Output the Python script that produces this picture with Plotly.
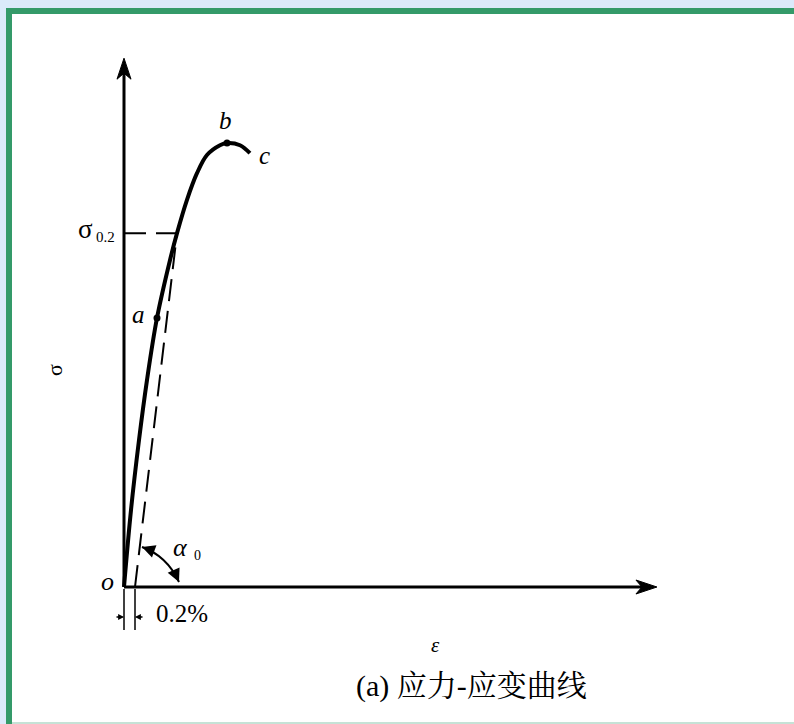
import plotly.graph_objects as go

# Stress–strain curve: strain in %, stress relative to ultimate strength (sigma_b = 100)
strain = [0.0, 0.127, 0.273, 0.418, 0.6, 0.836, 0.964, 1.145, 1.327, 1.509, 1.745, 1.873, 2.109, 2.29]
stress = [0.0, 17.3, 33.1, 46.6, 60.6, 73.6, 79.7, 87.2, 93.2, 97.3, 99.5, 100.0, 99.5, 97.7]

# 0.2 % offset (proof stress) construction
offset_strain = 0.2
proof_strain = 0.964
proof_stress = 79.7

# characteristic points on the curve
point_a = (0.6, 60.6)
point_b = (1.873, 100.0)
point_c = (2.29, 97.7)

# length of the drawn axes
axis_x_max = 9.69
axis_y_max = 119.1

# figure geometry (pixel scale of the data axes)
W, H = 794, 724
ORIGIN_PX = (124, 587)
PX_X = 55.0   # pixels per 1 % strain
PX_Y = 4.44   # pixels per stress unit

SERIF = "Liberation Serif, Times New Roman, serif"
CJK = "Liberation Serif, Noto Serif CJK SC, Noto Sans CJK SC, serif"

fig = go.Figure()

# offset line (dashed) from 0.2 % strain up to the curve
fig.add_trace(go.Scatter(
    x=[offset_strain, proof_strain], y=[0, proof_stress], mode="lines",
    line=dict(color="black", width=2, dash="22px,10px"), hoverinfo="skip"))
# horizontal dashed line at sigma_0.2
fig.add_trace(go.Scatter(
    x=[0, proof_strain], y=[proof_stress, proof_stress], mode="lines",
    line=dict(color="black", width=2, dash="22px,10px"), hoverinfo="skip"))
# stress–strain curve
fig.add_trace(go.Scatter(
    x=strain, y=stress, mode="lines",
    line=dict(color="black", width=4, shape="spline", smoothing=1.0), hoverinfo="skip"))
# points a and b
fig.add_trace(go.Scatter(
    x=[point_a[0], point_b[0]], y=[point_a[1], point_b[1]], mode="markers",
    marker=dict(color="black", size=7), hoverinfo="skip"))

shapes = []
# page frame: light blue outside, green border, white sheet
shapes.append(dict(type="rect", xref="paper", yref="paper", x0=6 / W, x1=1, y0=0, y1=1 - 8 / H,
                   fillcolor="#349a69", line=dict(width=0), layer="below"))
shapes.append(dict(type="rect", xref="paper", yref="paper", x0=12 / W, x1=1, y0=0, y1=1 - 14 / H,
                   fillcolor="#c6e2d6", line=dict(width=0), layer="below"))
shapes.append(dict(type="rect", xref="paper", yref="paper", x0=12 / W, x1=1, y0=2 / H, y1=1 - 14 / H,
                   fillcolor="white", line=dict(width=0), layer="below"))

# axes with arrowheads
ax_line = dict(color="black", width=3)
shapes.append(dict(type="line", xref="x", yref="y", x0=0, y0=0, x1=0,
                   y1=axis_y_max - 12 / PX_Y, line=ax_line))
shapes.append(dict(type="line", xref="x", yref="y", x0=0, y0=0,
                   x1=axis_x_max - 12 / PX_X, y1=0, line=ax_line))
shapes.append(dict(type="path", xref="x", yref="y", xsizemode="pixel", ysizemode="pixel",
                   xanchor=0, yanchor=axis_y_max,
                   path="M0,0 L-7,-21 L0,-15 L7,-21 Z",
                   fillcolor="black", line=dict(color="black", width=1)))
shapes.append(dict(type="path", xref="x", yref="y", xsizemode="pixel", ysizemode="pixel",
                   xanchor=axis_x_max, yanchor=0,
                   path="M0,0 L-21,7 L-15,0 L-21,-7 Z",
                   fillcolor="black", line=dict(color="black", width=1)))

# dimension lines for the 0.2 % offset
dim_bottom = -43 / PX_Y
for xv in (0, offset_strain):
    shapes.append(dict(type="line", xref="x", yref="y", x0=xv, x1=xv, y0=-2 / PX_Y, y1=dim_bottom,
                       line=dict(color="black", width=1.5)))

# angle arc alpha_0 between the offset line and the strain axis
shapes.append(dict(type="path", xref="x", yref="y", xsizemode="pixel", ysizemode="pixel",
                   xanchor=offset_strain, yanchor=0,
                   path="M7,40 Q32,31 44,5", line=dict(color="black", width=2)))

annotations = []


def label(text, x, y, dx=0, dy=0, size=25, **kw):
    annotations.append(dict(text=text, x=x, y=y, xref="x", yref="y", xshift=dx, yshift=dy,
                            showarrow=False, font=dict(family=SERIF, size=size, color="black"), **kw))


label("<i>b</i>", point_b[0], point_b[1], dx=-2, dy=23)
label("<i>c</i>", point_c[0], point_c[1], dx=15, dy=-2)
label("<i>a</i>", point_a[0], point_a[1], dx=-19, dy=3)
label("σ", 0, proof_stress, dx=-39, dy=4, size=27)
label("0.2", 0, proof_stress, dx=-19, dy=-4, size=15)
label("<i>o</i>", 0, 0, dx=-17, dy=6, size=26)
label("0.2%", 0, 0, dx=58, dy=-26, size=25)
label("<i>α</i>", 0, 0, dx=56, dy=40, size=26)
label("0", 0, 0, dx=73, dy=32, size=14)
label("<i>ε</i>", 0, 0, dx=311, dy=-58, size=21)
label("σ", 0, 48.9, dx=-69, size=22, textangle=-90)

# arrowheads on the alpha_0 arc
for dx, dy, ax, ay in ((7, 40, 11, 4), (44, 5, -5, -11)):
    annotations.append(dict(x=offset_strain, y=0, xref="x", yref="y", xshift=dx, yshift=dy,
                            ax=ax, ay=ay, text="", showarrow=True, arrowhead=2, arrowsize=1.3,
                            arrowwidth=2, arrowcolor="black"))

# small arrows pointing at the 0.2 % dimension lines
dim_y = -30 / PX_Y
for xv, ax in ((0, -9), (offset_strain, 9)):
    annotations.append(dict(x=xv, y=dim_y, xref="x", yref="y", ax=ax, ay=0, text="",
                            showarrow=True, arrowhead=2, arrowsize=0.9, arrowwidth=1.3,
                            arrowcolor="black"))

# caption
annotations.append(dict(text="(a) 应力-应变曲线", x=472 / W, y=1 - 705 / H, xref="paper", yref="paper",
                        showarrow=False, font=dict(family=CJK, size=30, color="black")))

fig.update_layout(
    width=W, height=H, autosize=False,
    margin=dict(l=0, r=0, t=0, b=0, pad=0),
    paper_bgcolor="#dbeafa", plot_bgcolor="rgba(0,0,0,0)",
    showlegend=False,
    xaxis=dict(range=[-ORIGIN_PX[0] / PX_X, (W - ORIGIN_PX[0]) / PX_X], visible=False, fixedrange=True),
    yaxis=dict(range=[-(H - ORIGIN_PX[1]) / PX_Y, ORIGIN_PX[1] / PX_Y], visible=False, fixedrange=True),
    shapes=shapes, annotations=annotations,
)

fig.write_html("out.html", config={"displayModeBar": False})
